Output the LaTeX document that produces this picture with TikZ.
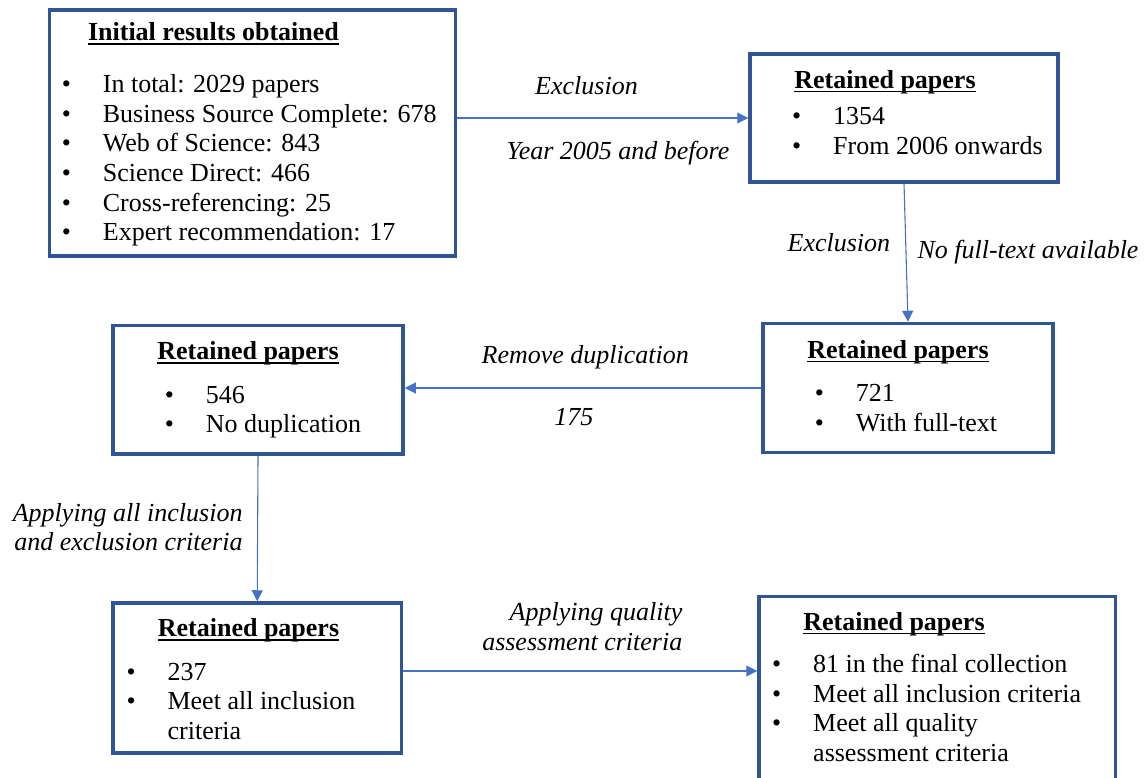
\documentclass[tikz,border=0pt]{standalone}
\usepackage{fontspec}
\setmainfont{Liberation Serif}
\usetikzlibrary{arrows.meta}
\definecolor{boxblue}{HTML}{2F5597}
\definecolor{arrowblue}{HTML}{4472C4}
\newsavebox{\headbox}
\newcommand{\uhead}[1]{\sbox{\headbox}{#1}\rlap{\rule[-4.2pt]{\wd\headbox}{1.6pt}}\usebox{\headbox}}
\newcommand{\bulletlist}[1]{\begin{tabular}[t]{@{}p{41pt}@{}l@{}}#1\end{tabular}}
\begin{document}
\begin{tikzpicture}[x=1pt,y=-1pt,
  font=\fontsize{26}{29.6}\selectfont,
  pbox/.style={draw=boxblue,line width=3.5pt,inner sep=0pt},
  head/.style={anchor=base,inner sep=0pt,font=\fontsize{26}{29.6}\selectfont\bfseries},
  lst/.style={anchor=base west,inner sep=0pt},
  lbl/.style={anchor=base,inner sep=0pt,font=\fontsize{26}{29.2}\selectfont\itshape},
  flow/.style={draw=arrowblue,line width=1.1pt,-{Triangle[length=11pt,width=11pt]}}]
  \useasboundingbox (0,0) rectangle (1145,778);
  % initial search box
  \node[pbox,minimum width=406,minimum height=246] (init) at (252.5,133) {};
  \node[head] (initTitle) at (213.5,40.7) {\uhead{Initial results obtained}};
  \node[lst] (initList) at (61.7,92.7) {\bulletlist{%
    \textbullet & In total: 2029 papers\\
    \textbullet & Business Source Complete: 678\\
    \textbullet & Web of Science: 843\\
    \textbullet & Science Direct: 466\\
    \textbullet & Cross-referencing: 25\\
    \textbullet & Expert recommendation: 17}};
  % after year filter
  \node[pbox,minimum width=308,minimum height=128] (yearBox) at (904,118) {};
  \node[head] (yearTitle) at (885,88.3) {\uhead{Retained papers}};
  \node[lst] (yearList) at (792,125) {\bulletlist{%
    \textbullet & 1354\\
    \textbullet & From 2006 onwards}};
  % after full-text filter
  \node[pbox,minimum width=290,minimum height=129] (textBox) at (908,388) {};
  \node[head] (textTitle) at (898,358) {\uhead{Retained papers}};
  \node[lst] (textList) at (814.7,401.7) {\bulletlist{%
    \textbullet & 721\\
    \textbullet & With full-text}};
  % after duplicates removed
  \node[pbox,minimum width=290,minimum height=128.5] (dupBox) at (258,389.75) {};
  \node[head] (dupTitle) at (248,359.3) {\uhead{Retained papers}};
  \node[lst] (dupList) at (164.7,403.3) {\bulletlist{%
    \textbullet & 546\\
    \textbullet & No duplication}};
  % after inclusion criteria
  \node[pbox,minimum width=288.5,minimum height=150] (inclBox) at (257.25,678) {};
  \node[head] (inclTitle) at (248.5,636.7) {\uhead{Retained papers}};
  \node[lst] (inclList) at (126.4,680) {\bulletlist{%
    \textbullet & 237\\
    \textbullet & Meet all inclusion\\
    & criteria}};
  % final collection (runs off the bottom edge)
  \node[pbox,minimum width=356.3,minimum height=203.3] (finalBox) at (937.15,698.35) {};
  \node[head] (finalTitle) at (894,630) {\uhead{Retained papers}};
  \node[lst] (finalList) at (772,672.7) {\bulletlist{%
    \textbullet & 81 in the final collection\\
    \textbullet & Meet all inclusion criteria\\
    \textbullet & Meet all quality\\
    & assessment criteria}};
  % connectors
  \draw[flow] (yearBox.west -| init.east) -- (yearBox.west);
  \draw[flow] (yearBox.south) -- (textBox.north);
  \draw[flow] (textBox.west) -- (textBox.west -| dupBox.east);
  \draw[flow] (dupBox.south) -- (inclBox.north);
  \draw[flow] ([yshift=7pt]inclBox.east) -- ([yshift=7pt]inclBox.east -| finalBox.west);
  % connector labels
  \node[lbl] (exclA) at (586.5,95) {Exclusion};
  \node[lbl] (yearLbl) at (618,160) {Year 2005 and before};
  \node[lbl] (exclB) at (838.9,251.7) {Exclusion};
  \node[lbl] (fullLbl) at (1028,258) {No full-text available};
  \node[lbl] (dupLbl) at (585.3,363) {Remove duplication};
  \node[lbl] (dupNum) at (573.9,425) {175};
  % two-line labels: base anchor sits on the last line
  \node[lbl,anchor=base east,align=right] (inclLbl) at (242.7,550.7) {Applying all inclusion\\and exclusion criteria};
  \node[lbl,anchor=base east,align=right] (qualLbl) at (682.5,650) {Applying quality\\assessment criteria};
\end{tikzpicture}
\end{document}
